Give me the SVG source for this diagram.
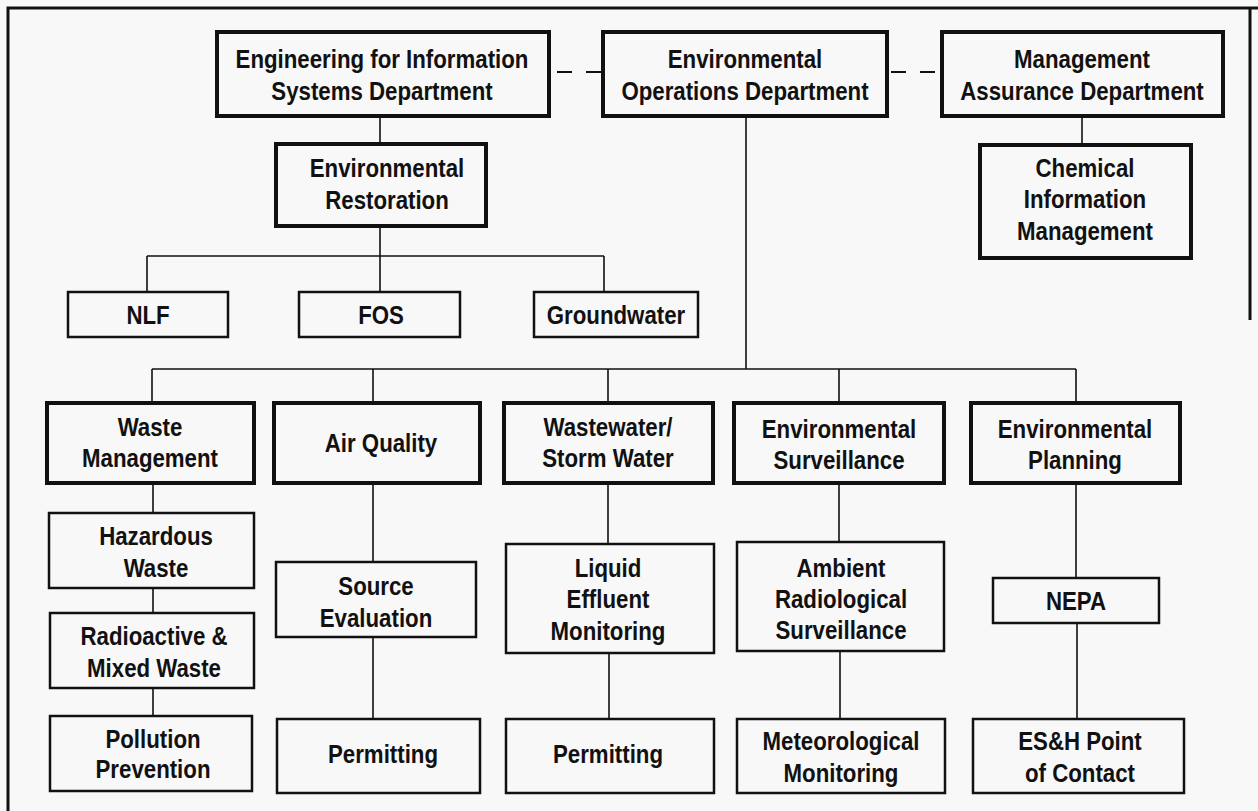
<svg xmlns="http://www.w3.org/2000/svg" width="1258" height="811" viewBox="0 0 1258 811">
<style>
.bg{fill:#f8f8f8}
.frame{fill:none;stroke:#111;stroke-width:3}
.thick{fill:#f8f8f8;stroke:#111;stroke-width:4}
.thin{fill:#f8f8f8;stroke:#111;stroke-width:2.5}
.c{fill:none;stroke:#111;stroke-width:1.6}
.d{fill:none;stroke:#111;stroke-width:1.8;stroke-dasharray:15 14}
text{font-family:"Liberation Sans",Arial,sans-serif;font-weight:bold;font-size:25px;fill:#111;text-anchor:middle}
</style>
<rect class="bg" x="0" y="0" width="1258" height="811"/>
<path class="frame" d="M8,811 V8 H1258 M1250,8 V320"/>
<g id="connectors">
<path class="d" d="M557,72 H602"/>
<path class="d" d="M891,72 H936"/>
<path class="c" d="M380,116 V144 M380,226 V256 M147,256 H604 M147,256 V292 M380,256 V292 M604,256 V292"/>
<path class="c" d="M1082,116 V145"/>
<path class="c" d="M746,116 V369 M152,369 H1076 M152,369 V403 M373,369 V403 M608,369 V403 M839,369 V403 M1076,369 V403"/>
<path class="c" d="M153,483 V513 M153,588 V613 M153,688 V716"/>
<path class="c" d="M373,483 V562 M373,637 V719"/>
<path class="c" d="M608,483 V544 M609,653 V719"/>
<path class="c" d="M839,483 V542 M840,651 V719"/>
<path class="c" d="M1076,483 V578 M1077,623 V719"/>
</g>
<g id="eng"><rect class="thick" x="217" y="32" width="332" height="84"/><text transform="matrix(0.89 0 0 1 382 68)">Engineering for Information</text><text transform="matrix(0.89 0 0 1 382 100)">Systems Department</text></g>
<g id="envops"><rect class="thick" x="603" y="32" width="284" height="84"/><text transform="matrix(0.89 0 0 1 745 68)">Environmental</text><text transform="matrix(0.89 0 0 1 745 100)">Operations Department</text></g>
<g id="mgmt"><rect class="thick" x="942" y="32" width="281" height="84"/><text transform="matrix(0.89 0 0 1 1082 68)">Management</text><text transform="matrix(0.89 0 0 1 1082 100)">Assurance Department</text></g>
<g id="chem"><rect class="thick" x="980" y="145" width="211" height="113"/><text transform="matrix(0.89 0 0 1 1085 177)">Chemical</text><text transform="matrix(0.89 0 0 1 1085 208)">Information</text><text transform="matrix(0.89 0 0 1 1085 240)">Management</text></g>
<g id="envrest"><rect class="thick" x="276" y="144" width="210" height="82"/><text transform="matrix(0.89 0 0 1 387 177)">Environmental</text><text transform="matrix(0.89 0 0 1 387 209)">Restoration</text></g>
<g id="nlf"><rect class="thin" x="68" y="292" width="160" height="45"/><text transform="matrix(0.89 0 0 1 148 324)">NLF</text></g>
<g id="fos"><rect class="thin" x="299" y="292" width="161" height="45"/><text transform="matrix(0.89 0 0 1 381 324)">FOS</text></g>
<g id="groundwater"><rect class="thin" x="534" y="292" width="164" height="45"/><text transform="matrix(0.89 0 0 1 616 324)">Groundwater</text></g>
<g id="waste"><rect class="thick" x="47" y="403" width="207" height="80"/><text transform="matrix(0.89 0 0 1 150 436)">Waste</text><text transform="matrix(0.89 0 0 1 150 467)">Management</text></g>
<g id="air"><rect class="thick" x="274" y="403" width="206" height="80"/><text transform="matrix(0.89 0 0 1 381 452)">Air Quality</text></g>
<g id="wastewater"><rect class="thick" x="504" y="403" width="209" height="80"/><text transform="matrix(0.89 0 0 1 608 436)">Wastewater/</text><text transform="matrix(0.89 0 0 1 608 467)">Storm Water</text></g>
<g id="envsurv"><rect class="thick" x="734" y="403" width="210" height="80"/><text transform="matrix(0.89 0 0 1 839 438)">Environmental</text><text transform="matrix(0.89 0 0 1 839 469)">Surveillance</text></g>
<g id="envplan"><rect class="thick" x="971" y="403" width="209" height="80"/><text transform="matrix(0.89 0 0 1 1075 438)">Environmental</text><text transform="matrix(0.89 0 0 1 1075 469)">Planning</text></g>
<g id="hazardous"><rect class="thin" x="49" y="513" width="205" height="75"/><text transform="matrix(0.89 0 0 1 156 545)">Hazardous</text><text transform="matrix(0.89 0 0 1 156 577)">Waste</text></g>
<g id="radioactive"><rect class="thin" x="50" y="613" width="204" height="75"/><text transform="matrix(0.89 0 0 1 154 645)">Radioactive &amp;</text><text transform="matrix(0.89 0 0 1 154 677)">Mixed Waste</text></g>
<g id="pollution"><rect class="thin" x="50" y="716" width="202" height="75"/><text transform="matrix(0.89 0 0 1 153 748)">Pollution</text><text transform="matrix(0.89 0 0 1 153 778)">Prevention</text></g>
<g id="source"><rect class="thin" x="276" y="562" width="200" height="75"/><text transform="matrix(0.89 0 0 1 376 595)">Source</text><text transform="matrix(0.89 0 0 1 376 627)">Evaluation</text></g>
<g id="permit1"><rect class="thin" x="277" y="719" width="203" height="74"/><text transform="matrix(0.89 0 0 1 383 763)">Permitting</text></g>
<g id="liquid"><rect class="thin" x="506" y="544" width="208" height="109"/><text transform="matrix(0.89 0 0 1 608 577)">Liquid</text><text transform="matrix(0.89 0 0 1 608 608)">Effluent</text><text transform="matrix(0.89 0 0 1 608 640)">Monitoring</text></g>
<g id="permit2"><rect class="thin" x="506" y="719" width="208" height="74"/><text transform="matrix(0.89 0 0 1 608 763)">Permitting</text></g>
<g id="ambient"><rect class="thin" x="737" y="542" width="207" height="109"/><text transform="matrix(0.89 0 0 1 841 577)">Ambient</text><text transform="matrix(0.89 0 0 1 841 608)">Radiological</text><text transform="matrix(0.89 0 0 1 841 639)">Surveillance</text></g>
<g id="meteo"><rect class="thin" x="737" y="719" width="208" height="74"/><text transform="matrix(0.89 0 0 1 841 750)">Meteorological</text><text transform="matrix(0.89 0 0 1 841 782)">Monitoring</text></g>
<g id="nepa"><rect class="thin" x="993" y="578" width="166" height="45"/><text transform="matrix(0.89 0 0 1 1076 610)">NEPA</text></g>
<g id="esh"><rect class="thin" x="973" y="719" width="211" height="74"/><text transform="matrix(0.89 0 0 1 1080 750)">ES&amp;H Point</text><text transform="matrix(0.89 0 0 1 1080 782)">of Contact</text></g>
</svg>
